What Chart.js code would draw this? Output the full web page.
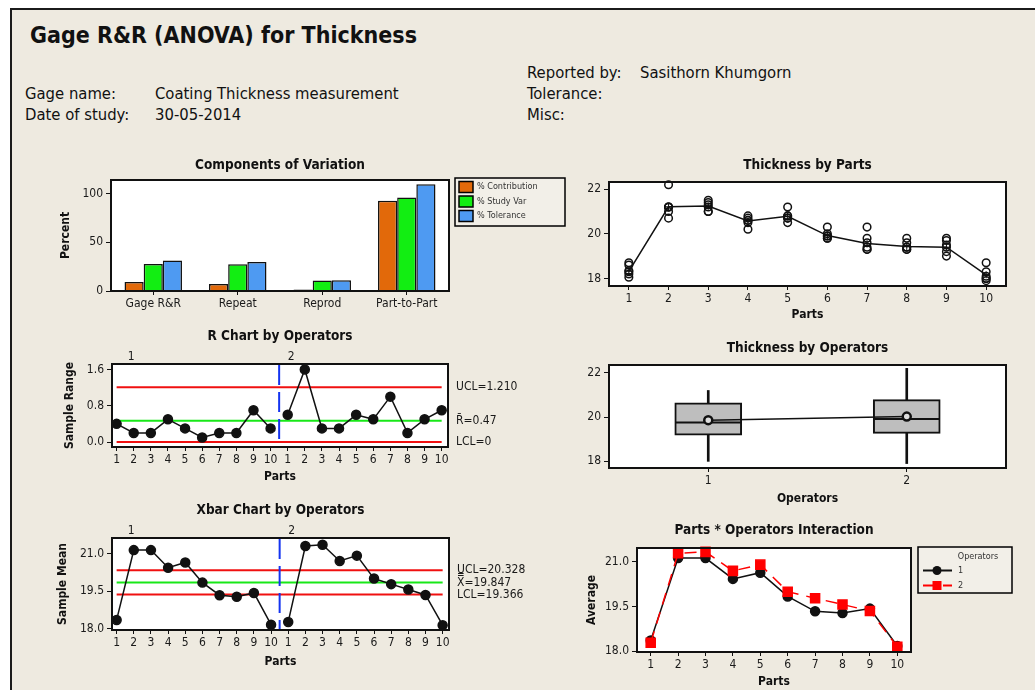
<!DOCTYPE html>
<html>
<head>
<meta charset="utf-8">
<title>Gage R&amp;R (ANOVA) for Thickness</title>
<script src="https://cdn.jsdelivr.net/npm/chart.js@4.4.1/dist/chart.umd.min.js"></script>
<style>
  html, body { margin: 0; padding: 0; background: #fff; }
  body { position: relative; width: 1035px; height: 690px; overflow: hidden;
         font-family: 'DejaVu Sans Condensed', 'DejaVu Sans', sans-serif; color: #111; }
  #sheet { position: absolute; left: 10px; top: 8px; width: 1060px; height: 720px;
           background: #EEEAE0; border-top: 2px solid #1b1b1b; border-left: 2px solid #1b1b1b; }
  canvas { position: absolute; }
  .txt { position: absolute; white-space: nowrap; font-size: 16.5px; line-height: 18px; }
  h1 { position: absolute; left: 30px; top: 21px; margin: 0; font-size: 23px; line-height: 28px; font-weight: bold; }
</style>
</head>
<body>
<div id="sheet"></div>
<h1>Gage R&amp;R (ANOVA) for Thickness</h1>
<div class="txt" style="left:25px;top:85px">Gage name:</div>
<div class="txt" style="left:155px;top:85px">Coating Thickness measurement</div>
<div class="txt" style="left:25px;top:106px">Date of study:</div>
<div class="txt" style="left:155px;top:106px">30-05-2014</div>
<div class="txt" style="left:527px;top:64px">Reported by:</div>
<div class="txt" style="left:640px;top:64px">Sasithorn Khumgorn</div>
<div class="txt" style="left:527px;top:85px">Tolerance:</div>
<div class="txt" style="left:527px;top:106px">Misc:</div>

<canvas id="cVar"></canvas>
<canvas id="cParts"></canvas>
<canvas id="cRange"></canvas>
<canvas id="cOps"></canvas>
<canvas id="cXbar"></canvas>
<canvas id="cInter"></canvas>

<script>
// ---- components of variation (%) ----
const components = ['Gage R&R', 'Repeat', 'Reprod', 'Part-to-Part'];
const pctContribution = [9.2, 7.2, 1.6, 92.6];
const pctStudyVar = [27.7, 27.4, 10.9, 96.1];
const pctTolerance = [31.4, 29.7, 11.1, 109.6];

// ---- thickness readings per part (2 operators x 3 trials) ----
const parts = ['1', '2', '3', '4', '5', '6', '7', '8', '9', '10'];
const thicknessByPart = [
  [18.7, 18.6, 18.35, 18.3, 18.2, 18.05],
  [22.2, 21.2, 21.2, 21.2, 21.0, 20.7],
  [21.5, 21.4, 21.3, 21.2, 21.0, 21.0],
  [20.8, 20.7, 20.6, 20.6, 20.5, 20.2],
  [21.2, 20.8, 20.8, 20.7, 20.7, 20.5],
  [20.3, 20.0, 19.9, 19.9, 19.8, 19.8],
  [20.3, 19.8, 19.6, 19.4, 19.3, 19.3],
  [19.8, 19.6, 19.4, 19.4, 19.3, 19.3],
  [19.8, 19.7, 19.5, 19.4, 19.2, 19.0],
  [18.7, 18.3, 18.1, 18.0, 18.0, 17.9]
];
const partMeans = [18.32, 21.21, 21.24, 20.57, 20.78, 19.92, 19.56, 19.43, 19.40, 18.16];

// ---- ranges by operator ----
const rangeOp1 = [0.4, 0.2, 0.2, 0.5, 0.3, 0.1, 0.2, 0.2, 0.7, 0.3];
const rangeOp2 = [0.6, 1.6, 0.3, 0.3, 0.6, 0.5, 1.0, 0.2, 0.5, 0.7];
const rUCL = 1.210, rBar = 0.47, rLCL = 0;

// ---- averages by operator ----
const meanOp1 = [18.36, 21.13, 21.13, 20.43, 20.64, 19.84, 19.34, 19.28, 19.43, 18.17];
const meanOp2 = [18.28, 21.29, 21.34, 20.70, 20.91, 20.00, 19.78, 19.57, 19.35, 18.15];
const xUCL = 20.328, xBar = 19.847, xLCL = 19.366;

// ---- box plot by operator ----
const operators = ['1', '2'];
const opMin = [18.0, 17.9];
const opQ1 = [19.18, 19.26];
const opMedian = [19.75, 19.91];
const opQ3 = [20.64, 20.79];
const opMax = [21.2, 22.2];
const opMean = [19.86, 20.02];

const FONT = "'DejaVu Sans Condensed', 'DejaVu Sans', sans-serif";
Chart.defaults.font.family = FONT;
Chart.defaults.font.size = 12;
Chart.defaults.color = '#1a1a1a';
Chart.defaults.animation = false;

// white plot background + black frame
const plotFrame = {
  id: 'plotFrame',
  beforeDraw(chart) {
    const a = chart.chartArea, ctx = chart.ctx;
    ctx.save();
    ctx.fillStyle = '#fff';
    ctx.fillRect(a.left, a.top, a.width, a.height);
    ctx.restore();
  },
  afterDatasetsDraw(chart) {
    const a = chart.chartArea, ctx = chart.ctx;
    ctx.save();
    ctx.strokeStyle = '#111';
    ctx.lineWidth = 2;
    ctx.strokeRect(a.left, a.top, a.width, a.height);
    ctx.restore();
  }
};

// boxed legend to the right of the plot
const boxLegend = {
  id: 'boxLegend',
  afterDraw(chart, args, o) {
    if (!o.w) return;
    const {ctx, chartArea: a} = chart;
    const x = a.right + o.dx, y = a.top + o.dy;
    ctx.save();
    ctx.fillStyle = '#F2EFE8';
    ctx.fillRect(x, y, o.w, o.h);
    ctx.strokeStyle = '#000';
    ctx.lineWidth = 1.5;
    ctx.strokeRect(x, y, o.w, o.h);
    ctx.font = '9px ' + FONT;
    ctx.textBaseline = 'middle';
    ctx.fillStyle = '#333';
    if (o.title) {
      ctx.textAlign = 'center';
      ctx.fillText(o.title, x + o.titleX, y + o.titleY);
    }
    ctx.textAlign = 'left';
    o.items.forEach((di, k) => {
      const ds = chart.data.datasets[di];
      const ry = y + o.rowY + k * o.rowH;
      if (o.kind === 'swatch') {
        ctx.fillStyle = ds.backgroundColor;
        ctx.fillRect(x + 4, ry - 5.5, 14, 11);
        ctx.strokeStyle = '#000';
        ctx.lineWidth = 1.5;
        ctx.strokeRect(x + 4, ry - 5.5, 14, 11);
        ctx.fillStyle = '#333';
        ctx.fillText(ds.label, x + 22, ry);
      } else {
        ctx.strokeStyle = ds.borderColor;
        ctx.lineWidth = 2;
        ctx.setLineDash(ds.borderDash || []);
        ctx.beginPath();
        ctx.moveTo(x + 5, ry);
        ctx.lineTo(x + 34, ry);
        ctx.stroke();
        ctx.setLineDash([]);
        ctx.fillStyle = ds.pointBackgroundColor;
        if (ds.pointStyle === 'rect') {
          ctx.fillRect(x + 14.5, ry - 4.5, 9, 9);
        } else {
          ctx.beginPath();
          ctx.arc(x + 19, ry, 4.5, 0, Math.PI * 2);
          ctx.fill();
        }
        ctx.fillStyle = '#333';
        ctx.fillText(ds.label, x + 40, ry);
      }
    });
    ctx.restore();
  }
};

// control-limit labels, operator group labels and divider
const controlNotes = {
  id: 'controlNotes',
  afterDraw(chart, args, o) {
    if (!o.limits) return;
    const {ctx, chartArea: a, scales: {x, y}} = chart;
    ctx.save();
    const px = x.getPixelForValue(o.divider);
    ctx.strokeStyle = '#1434F0';
    ctx.lineWidth = 2;
    ctx.setLineDash([20, 7]);
    ctx.beginPath();
    ctx.moveTo(px, a.top + 1);
    ctx.lineTo(px, a.bottom - 1);
    ctx.stroke();
    ctx.setLineDash([]);
    ctx.font = '12px ' + FONT;
    ctx.fillStyle = '#1a1a1a';
    ctx.textAlign = 'center';
    ctx.textBaseline = 'bottom';
    o.groups.forEach(g => ctx.fillText(g.text, x.getPixelForValue(g.at), a.top - o.groupGap));
    ctx.textAlign = 'left';
    ctx.textBaseline = 'middle';
    o.limits.forEach(l => ctx.fillText(l.text, a.right + 8, y.getPixelForValue(l.value)));
    ctx.restore();
  }
};

Chart.register(plotFrame, boxLegend, controlNotes);

// canvas box [left, top, w, h], plot rect [x1, y1, x2, y2]
function setup(id, box, plot, yw, xh, titleY) {
  const [cl, ct, cw, ch] = box;
  const c = document.getElementById(id);
  c.width = cw; c.height = ch;
  Object.assign(c.style, {left: cl + 'px', top: ct + 'px', width: cw + 'px', height: ch + 'px'});
  const th = 13.5 * 1.2;
  const pt = titleY - th / 2 - ct;
  return {
    canvas: c, yw, xh,
    padding: {left: plot[0] - cl - yw, right: cl + cw - plot[2], top: pt, bottom: ct + ch - plot[3] - xh},
    titleGap: plot[1] - ct - pt - th
  };
}

function baseOptions(g, title) {
  return {
    responsive: false,
    animation: false,
    layout: {padding: g.padding, autoPadding: false},
    plugins: {
      legend: {display: false},
      tooltip: {enabled: false},
      title: {display: true, text: title, fullSize: false, color: '#111',
              font: {size: 13.5, weight: 'bold'}, padding: {top: 0, bottom: g.titleGap}}
    }
  };
}

function axisY(g, min, max, step, title, fmt) {
  return {
    min, max,
    afterFit: s => { s.width = g.yw; },
    grid: {drawOnChartArea: false, tickLength: 5, color: '#111'},
    border: {display: false},
    ticks: {stepSize: step, includeBounds: false, padding: 3, callback: fmt || (v => v)},
    title: {display: !!title, text: title || '', color: '#111', padding: 0,
            font: {size: 12, weight: 'bold'}}
  };
}

function axisX(g, title, more) {
  return Object.assign({
    afterFit: s => { s.height = g.xh; },
    grid: {drawOnChartArea: false, tickLength: 4, color: '#111', offset: false},
    border: {display: false},
    ticks: {padding: 2, autoSkip: false, maxRotation: 0},
    title: {display: !!title, text: title || '', color: '#111', padding: 0,
            font: {size: 12, weight: 'bold'}}
  }, more);
}

function hline(value, color, from, to) {
  return {type: 'line', data: [{x: from, y: value}, {x: to, y: value}], borderColor: color,
          borderWidth: 2, pointRadius: 0, order: 5};
}

// ---------- Components of Variation ----------
{
  const g = setup('cVar', [40, 150, 538, 166], [111, 180, 449, 291], 52, 25, 165);
  const opt = baseOptions(g, 'Components of Variation');
  opt.datasets = {bar: {categoryPercentage: 0.68, barPercentage: 1, borderColor: '#111', borderWidth: 1.5}};
  opt.scales = {
    x: axisX(g, null, {offset: true}),
    y: axisY(g, 0, 114, 50, 'Percent')
  };
  opt.plugins.boxLegend = {kind: 'swatch', dx: 6, dy: -2, w: 110, h: 48, rowY: 9, rowH: 14.5, items: [0, 1, 2]};
  new Chart(g.canvas, {
    type: 'bar',
    data: {
      labels: components,
      datasets: [
        {label: '% Contribution', data: pctContribution, backgroundColor: '#E2690A'},
        {label: '% Study Var', data: pctStudyVar, backgroundColor: '#12EE12'},
        {label: '% Tolerance', data: pctTolerance, backgroundColor: '#4E9AF2'}
      ]
    },
    options: opt
  });
}

// ---------- Thickness by Parts ----------
{
  const g = setup('cParts', [579, 150, 451, 175], [609, 182, 1006, 286], 30, 36.2, 165);
  const opt = baseOptions(g, 'Thickness by Parts');
  opt.scales = {
    x: axisX(g, 'Parts', {offset: true}),
    y: axisY(g, 17.66, 22.32, 2)
  };
  const readings = thicknessByPart.flatMap((vals, i) => vals.map(v => ({x: parts[i], y: v})));
  new Chart(g.canvas, {
    type: 'line',
    data: {
      labels: parts,
      datasets: [
        {data: readings, showLine: false, pointRadius: 3.8, pointBorderWidth: 1.5,
         pointBorderColor: '#111', pointBackgroundColor: 'rgba(255,255,255,0)', clip: false},
        {data: partMeans, borderColor: '#111', borderWidth: 1.5, pointStyle: 'cross',
         pointRadius: 3.5, pointBorderColor: '#111', pointBorderWidth: 1}
      ]
    },
    options: opt
  });
}

// ---------- R Chart by Operators ----------
{
  const g = setup('cRange', [40, 325, 538, 160], [112, 364, 448, 447], 49.2, 36.9, 336.7);
  const opt = baseOptions(g, 'R Chart by Operators');
  opt.scales = {
    x: axisX(g, 'Parts', {type: 'linear', min: 0.73, max: 20.37,
      ticks: {stepSize: 1, includeBounds: false, padding: 2, autoSkip: false, maxRotation: 0,
              callback: v => ((v - 1) % 10) + 1}}),
    y: axisY(g, -0.11, 1.72, 0.8, 'Sample Range', v => v.toFixed(1))
  };
  opt.plugins.controlNotes = {
    divider: 10.5, groupGap: 1,
    groups: [{text: '1', at: 1.85}, {text: '2', at: 11.2}],
    limits: [{text: 'UCL=' + rUCL.toFixed(3), value: rUCL},
             {text: 'R\u0304=' + rBar.toFixed(2), value: rBar},
             {text: 'LCL=' + rLCL, value: rLCL}]
  };
  const pt = {borderColor: '#111', borderWidth: 1.5, pointRadius: 4.5, pointBackgroundColor: '#111',
              pointBorderColor: '#111', order: 1, clip: false};
  new Chart(g.canvas, {
    type: 'line',
    data: {
      datasets: [
        hline(rUCL, '#F01010', 1, 20),
        hline(rBar, '#18E818', 1, 20),
        hline(rLCL, '#F01010', 1, 20),
        Object.assign({data: rangeOp1.map((v, i) => ({x: i + 1, y: v}))}, pt),
        Object.assign({data: rangeOp2.map((v, i) => ({x: i + 11, y: v}))}, pt)
      ]
    },
    options: opt
  });
}

// ---------- Thickness by Operators ----------
{
  const g = setup('cOps', [579, 335, 451, 175], [609, 365, 1006, 468], 30, 38.2, 348.3);
  const opt = baseOptions(g, 'Thickness by Operators');
  opt.scales = {
    x: axisX(g, 'Operators', {offset: true}),
    y: axisY(g, 17.7, 22.35, 2)
  };
  new Chart(g.canvas, {
    type: 'bar',
    data: {
      labels: operators,
      datasets: [
        {data: opMin.map((v, i) => [v, opMax[i]]), backgroundColor: '#111', barThickness: 2,
         grouped: false, order: 4},
        {data: opQ1.map((v, i) => [v, opQ3[i]]), backgroundColor: '#BEBEBE', borderColor: '#111',
         borderWidth: 2, borderSkipped: false, barThickness: 67, grouped: false, order: 3},
        {type: 'line', data: opMedian, showLine: false, pointStyle: 'line', pointRadius: 33,
         pointBorderWidth: 2, pointBorderColor: '#111', order: 2},
        {type: 'line', data: opMean, borderColor: '#111', borderWidth: 1.5, pointRadius: 4,
         pointBorderWidth: 2.5, pointBorderColor: '#111', pointBackgroundColor: '#DDD', order: 1}
      ]
    },
    options: opt
  });
}

// ---------- Xbar Chart by Operators ----------
{
  const g = setup('cXbar', [40, 495, 538, 175], [112, 538, 449, 630], 56, 38.9, 510);
  const opt = baseOptions(g, 'Xbar Chart by Operators');
  opt.scales = {
    x: axisX(g, 'Parts', {type: 'linear', min: 0.73, max: 20.37,
      ticks: {stepSize: 1, includeBounds: false, padding: 2, autoSkip: false, maxRotation: 0,
              callback: v => ((v - 1) % 10) + 1}}),
    y: axisY(g, 17.96, 21.61, 1.5, 'Sample Mean', v => v.toFixed(1))
  };
  opt.plugins.controlNotes = {
    divider: 10.5, groupGap: 1,
    groups: [{text: '1', at: 1.85}, {text: '2', at: 11.2}],
    limits: [{text: 'UCL=' + xUCL.toFixed(3), value: xUCL},
             {text: 'X\u033F=' + xBar.toFixed(3), value: xBar},
             {text: 'LCL=' + xLCL.toFixed(3), value: xLCL}]
  };
  const pt = {borderColor: '#111', borderWidth: 1.5, pointRadius: 4.5, pointBackgroundColor: '#111',
              pointBorderColor: '#111', order: 1, clip: false};
  new Chart(g.canvas, {
    type: 'line',
    data: {
      datasets: [
        hline(xUCL, '#F01010', 1, 20),
        hline(xBar, '#18E818', 1, 20),
        hline(xLCL, '#F01010', 1, 20),
        Object.assign({data: meanOp1.map((v, i) => ({x: i + 1, y: v}))}, pt),
        Object.assign({data: meanOp2.map((v, i) => ({x: i + 11, y: v}))}, pt)
      ]
    },
    options: opt
  });
}

// ---------- Parts * Operators Interaction ----------
{
  const g = setup('cInter', [579, 515, 451, 175], [637, 548, 911, 652], 52.8, 37, 530.7);
  const opt = baseOptions(g, 'Parts * Operators Interaction');
  opt.scales = {
    x: axisX(g, 'Parts', {offset: true}),
    y: axisY(g, 17.97, 21.47, 1.5, 'Average', v => v.toFixed(1))
  };
  opt.plugins.boxLegend = {kind: 'line', dx: 7, dy: -1, w: 94, h: 46, title: 'Operators',
                           titleX: 60, titleY: 9.5, rowY: 23.5, rowH: 15, items: [0, 1]};
  new Chart(g.canvas, {
    type: 'line',
    data: {
      labels: parts,
      datasets: [
        {label: '1', data: meanOp1, borderColor: '#111', borderWidth: 1.5, pointRadius: 4.5,
         pointBackgroundColor: '#111', pointBorderColor: '#111', order: 1, clip: false},
        {label: '2', data: meanOp2, borderColor: '#FF0000', borderWidth: 1.5, borderDash: [12, 8],
         pointStyle: 'rect', pointRadius: 6.4, pointBackgroundColor: '#FF0000',
         pointBorderColor: '#FF0000', order: 0, clip: false}
      ]
    },
    options: opt
  });
}
</script>
</body>
</html>
